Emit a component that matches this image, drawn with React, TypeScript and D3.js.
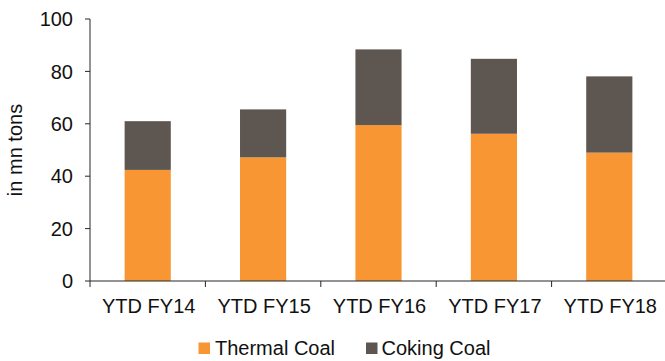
import React from "react";
import * as d3 from "d3";

const categories = ["YTD FY14", "YTD FY15", "YTD FY16", "YTD FY17", "YTD FY18"];
const thermalCoal = [42.4, 47.2, 59.5, 56.2, 49.0];
const cokingCoal = [18.6, 18.3, 28.9, 28.6, 29.1];
const yTicks = [0, 20, 40, 60, 80, 100];
const seriesNames = ["Thermal Coal", "Coking Coal"];
const seriesColors = ["#F79632", "#5E5651"];

const W = 665;
const H = 361;
const FONT = "'Liberation Sans', Arial, sans-serif";

export default function App() {
  const x = d3
    .scaleBand<string>()
    .domain(categories)
    .range([90, 667])
    .paddingInner(0.6)
    .paddingOuter(0.3);
  const step = x.step();
  const y = d3.scaleLinear().domain([0, 100]).range([281, 19]);

  const rows = categories.map((c, i) => ({
    category: c,
    thermal: thermalCoal[i],
    coking: cokingCoal[i],
  }));
  const stacked = d3.stack<any>().keys(["thermal", "coking"])(rows);

  const axisColor = "#262626";
  const boundaries = categories.map((c) => (x(c) as number) - step * 0.3);
  boundaries.push((x(categories[categories.length - 1]) as number) + x.bandwidth() + step * 0.3);

  return (
    <svg
      width={W}
      height={H}
      style={{ position: "absolute", left: 0, top: 0, background: "#fff" }}
      fontFamily={FONT}
    >
      {/* stacked bars */}
      {stacked.map((layer, li) => (
        <g key={layer.key} fill={seriesColors[li]}>
          {layer.map((d, i) => (
            <rect
              key={categories[i]}
              x={x(categories[i])}
              width={x.bandwidth()}
              y={y(d[1])}
              height={y(d[0]) - y(d[1])}
            />
          ))}
        </g>
      ))}

      {/* y axis */}
      <line x1={90} x2={90} y1={y(100)} y2={y(0)} stroke={axisColor} strokeWidth={1} />
      {yTicks.map((t) => (
        <g key={t}>
          <line x1={85} x2={90} y1={y(t)} y2={y(t)} stroke={axisColor} strokeWidth={1} />
          <text
            x={73}
            y={y(t)}
            dy="0.36em"
            textAnchor="end"
            fontSize={20}
            fill="#111"
          >
            {t}
          </text>
        </g>
      ))}
      <text
        transform={`translate(22,${(y(0) + y(100)) / 2}) rotate(-90)`}
        textAnchor="middle"
        fontSize={20}
        fill="#111"
      >
        in mn tons
      </text>

      {/* x axis */}
      <line x1={90} x2={W} y1={y(0)} y2={y(0)} stroke={axisColor} strokeWidth={1} />
      {boundaries.map((bx, i) => (
        <line key={i} x1={bx} x2={bx} y1={y(0)} y2={y(0) + 6} stroke={axisColor} strokeWidth={1} />
      ))}
      {categories.map((c) => (
        <text
          key={c}
          x={(x(c) as number) + x.bandwidth() / 2 + 1}
          y={313}
          textAnchor="middle"
          fontSize={20}
          fill="#111"
        >
          {c}
        </text>
      ))}

      {/* legend */}
      {[
        { sx: 198.5, tx: 215 },
        { sx: 366, tx: 381.5 },
      ].map((p, i) => (
        <g key={seriesNames[i]}>
          <rect x={p.sx} y={342.5} width={11.5} height={11.5} fill={seriesColors[i]} />
          <text x={p.tx} y={354.5} fontSize={20} fill="#111">
            {seriesNames[i]}
          </text>
        </g>
      ))}
    </svg>
  );
}
